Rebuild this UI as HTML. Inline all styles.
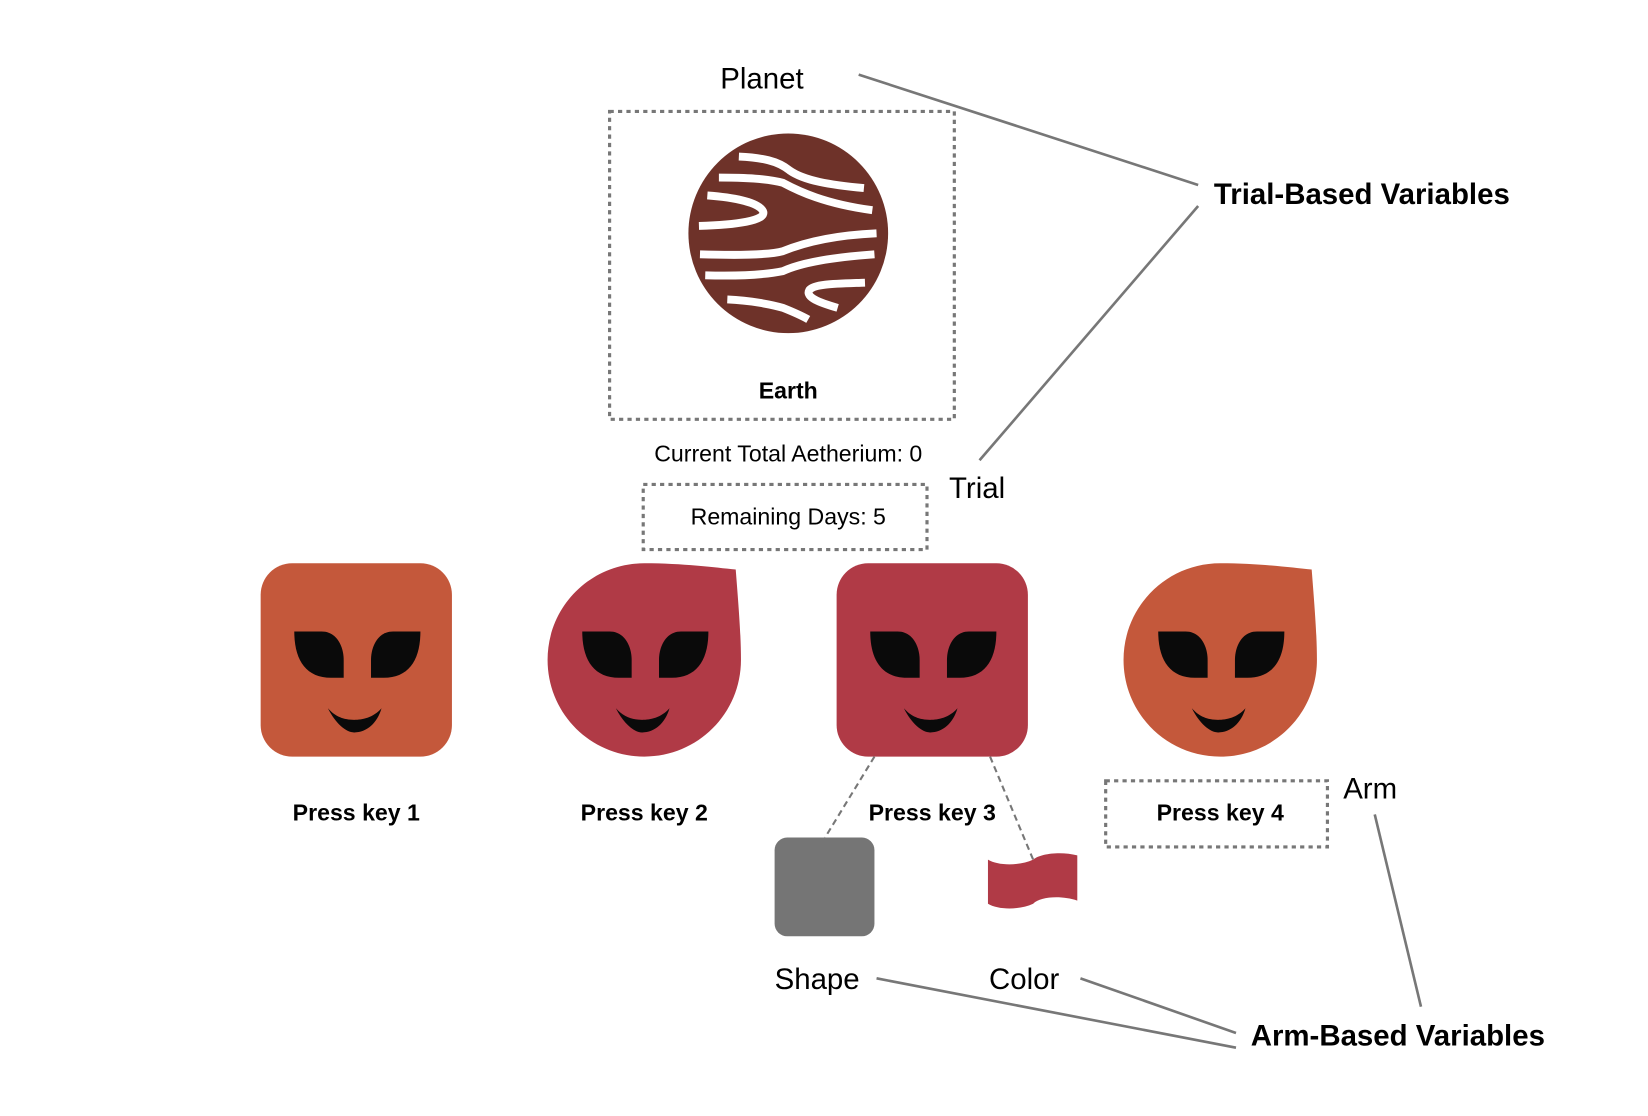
<!DOCTYPE html>
<html><head><meta charset="utf-8"><style>
html,body{margin:0;padding:0;background:#fff;}
svg{display:block;}
text{font-family:"Liberation Sans",sans-serif;fill:#000;}
</style></head><body>
<svg width="1648" height="1116" viewBox="0 0 1568 1062" preserveAspectRatio="none">
<defs>
<g id="face">
<path d="M-59,-27 L-33,-27 C-18,-27 -12,-12 -12,0 L-12,17 L-24,17 C-48,17 -59,0 -59,-27 Z" fill="#0a0a0a"/>
<path d="M61,-27 L35,-27 C20,-27 14,-12 14,0 L14,17 L26,17 C50,17 61,0 61,-27 Z" fill="#0a0a0a"/>
<path d="M-27,46 C-20,60 -10,69 -2,69 C10,69 20,60 24,46 C16,55 6,57 -2,57 C-12,57 -20,54 -27,46 Z" fill="#0a0a0a"/>
</g>
</defs>
<text x="725" y="84" font-size="28" text-anchor="middle">Planet</text>
<rect x="580" y="106" width="328" height="293" fill="none" stroke="#777" stroke-width="3" stroke-dasharray="4,4"/>
<circle cx="750" cy="222" r="95" fill="#6e3229"/>
<g fill="none" stroke="#fff" stroke-width="7.5" stroke-linecap="butt">
<path d="M703,149 C725,150 740,153 751,162 C765,172 790,176 822,179"/>
<path d="M684,169 C710,169 730,170 745,174 C760,182 785,194 830,200"/>
<path d="M673,186 C700,188 722,193 726,201 C730,210 700,214 665,215"/>
<path d="M666,242 C700,243 730,243 745,239 C762,232 790,224 834,222"/>
<path d="M671,262 C705,263 730,261 745,258 C762,250 790,245 832,242"/>
<path d="M823,269 C795,270 775,270 770,276 C766,283 780,288 797,293"/>
<path d="M692,285 C715,286 735,290 745,293 C755,297 762,300 769,304"/>
</g>
<text x="750" y="379" font-size="22" font-weight="bold" text-anchor="middle">Earth</text>
<text x="750" y="439" font-size="22" text-anchor="middle">Current Total Aetherium: 0</text>
<rect x="612" y="461" width="270" height="62" fill="none" stroke="#777" stroke-width="3" stroke-dasharray="4,4"/>
<text x="750" y="499" font-size="22" text-anchor="middle">Remaining Days: 5</text>
<text x="903" y="474" font-size="28">Trial</text>
<text x="1155" y="194" font-size="28" font-weight="bold">Trial-Based Variables</text>
<g stroke="#777" stroke-width="2.5" fill="none">
<line x1="817" y1="71" x2="1140" y2="176"/>
<line x1="1140" y1="196" x2="932" y2="438"/>
<line x1="834" y1="931" x2="1176" y2="997"/>
<line x1="1028" y1="931" x2="1176" y2="983"/>
<line x1="1308" y1="775" x2="1352" y2="958"/>
</g>
<rect x="248" y="536" width="182" height="184" rx="30" fill="#c4583b"/>
<use href="#face" x="339" y="628"/>
<path d="M613,536 C650,536 680,540 700,542 C703,580 705,605 705,628 C705,679 664,720 613,720 C562,720 521,679 521,628 C521,577 562,536 613,536 Z" fill="#b03a46"/>
<use href="#face" x="613" y="628"/>
<rect x="796" y="536" width="182" height="184" rx="30" fill="#b03a46"/>
<use href="#face" x="887" y="628"/>
<path d="M1161,536 C1198,536 1228,540 1248,542 C1251,580 1253,605 1253,628 C1253,679 1212,720 1161,720 C1110,720 1069,679 1069,628 C1069,577 1110,536 1161,536 Z" fill="#c4583b"/>
<use href="#face" x="1161" y="628"/>
<g font-size="22" font-weight="bold" text-anchor="middle">
<text x="339" y="781">Press key 1</text>
<text x="613" y="781">Press key 2</text>
<text x="887" y="781">Press key 3</text>
<text x="1161" y="781">Press key 4</text>
</g>
<rect x="1052" y="743" width="211" height="63" fill="none" stroke="#777" stroke-width="3" stroke-dasharray="4,4"/>
<text x="1278" y="760" font-size="28">Arm</text>
<g stroke="#777" stroke-width="2" stroke-dasharray="6,4">
<line x1="832" y1="720" x2="785" y2="797"/>
<line x1="942" y1="720" x2="983" y2="818"/>
</g>
<rect x="737" y="797" width="95" height="94" rx="12" fill="#757575"/>
<path d="M940,818 C950,824 970,824 983,818 L983,818 C990,812 1010,810 1025,814 L1025,857 C1010,852 990,853 983,860 C970,866 950,866 940,860 Z" fill="#b03a46"/>
<text x="737" y="941" font-size="28">Shape</text>
<text x="941" y="941" font-size="28">Color</text>
<text x="1190" y="995" font-size="28" font-weight="bold">Arm-Based Variables</text>
</svg>
</body></html>
